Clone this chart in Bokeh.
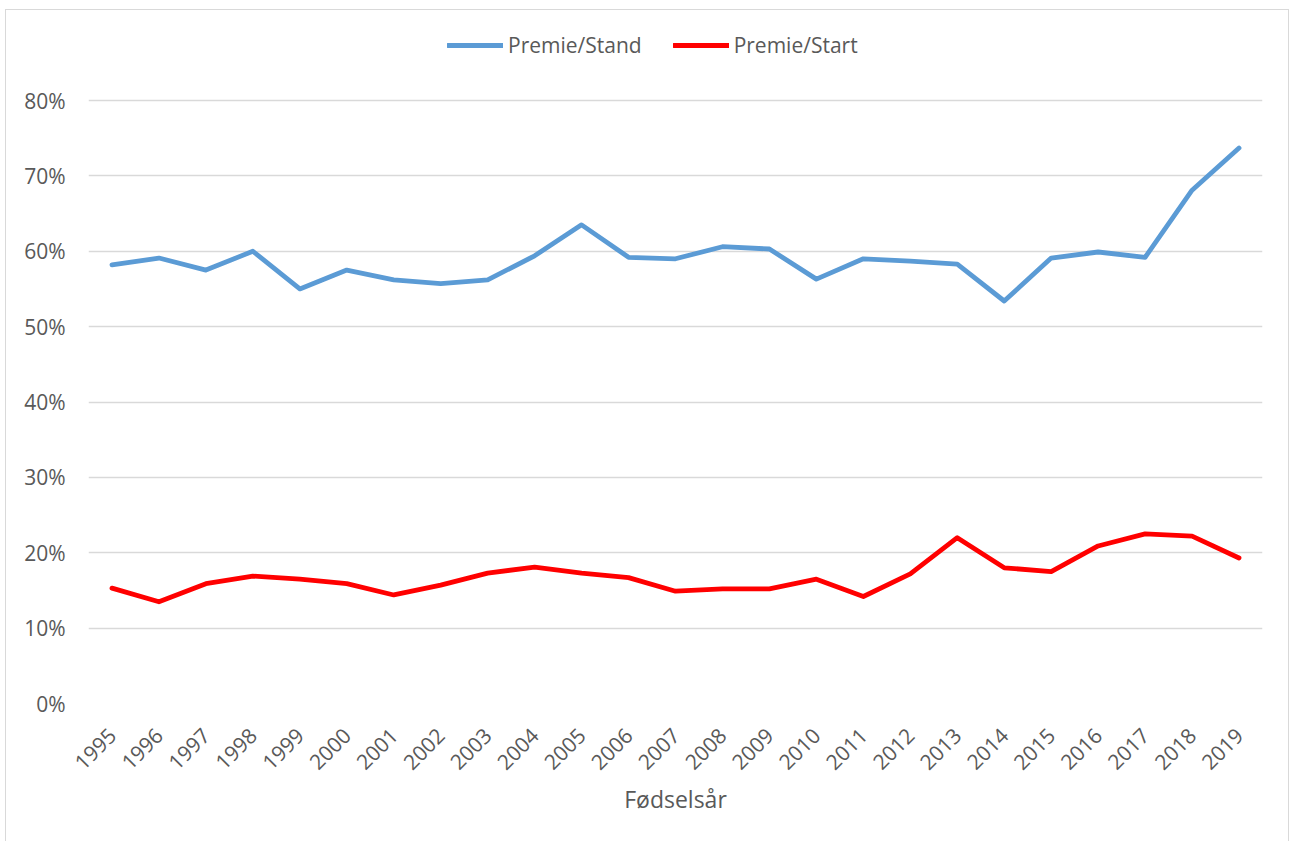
from bokeh.plotting import figure
from bokeh.models import (FactorRange, Range1d, NumeralTickFormatter, FixedTicker,
                          Legend, LegendItem)
from bokeh.embed import file_html
from bokeh.resources import INLINE
import math

years = [str(y) for y in range(1995, 2020)]
premie_stand = [58.2, 59.1, 57.5, 60.0, 55.0, 57.5, 56.2, 55.7, 56.2, 59.4, 63.5, 59.2, 59.0,
                60.6, 60.3, 56.3, 59.0, 58.7, 58.3, 53.4, 59.1, 59.9, 59.2, 68.1, 73.7]
premie_start = [15.3, 13.5, 15.9, 16.9, 16.5, 15.9, 14.4, 15.7, 17.3, 18.1, 17.3, 16.7, 14.9,
                15.2, 15.2, 16.5, 14.2, 17.2, 22.0, 18.0, 17.5, 20.9, 22.5, 22.2, 19.3]
y_ticks = [0, 0.1, 0.2, 0.3, 0.4, 0.5, 0.6, 0.7, 0.8]

stand_frac = [v / 100 for v in premie_stand]
start_frac = [v / 100 for v in premie_start]

TEXT = "#595959"
FONT = "Open Sans"

# frame: 0% .. 80% spans 603 px; frame extends above 80% to hold the legend
FRAME_TOP = 20
FRAME_BOTTOM = 693
y_end = 0.8 * (FRAME_BOTTOM - FRAME_TOP) / 603.0

W, H = 1284, 832
p = figure(width=W, height=H, x_range=FactorRange(factors=years),
           y_range=Range1d(0, y_end), output_backend="svg", toolbar_location=None,
           min_border_left=82, min_border_top=FRAME_TOP, min_border_right=28,
           min_border_bottom=H - FRAME_BOTTOM)
p.styles = {"border-left": "1px solid #d9d9d9", "border-top": "1px solid #d9d9d9",
            "border-right": "1px solid #d9d9d9", "margin-left": "5px", "margin-top": "9px"}
p.outline_line_color = None
p.background_fill_color = "white"
p.border_fill_color = "white"

r1 = p.line(years, stand_frac, line_color="#5B9BD5", line_width=4.8,
            line_join="round", line_cap="round")
r2 = p.line(years, start_frac, line_color="#FF0000", line_width=4.8,
            line_join="round", line_cap="round")

p.xgrid.grid_line_color = None
p.ygrid.grid_line_color = "#D9D9D9"
p.ygrid.grid_line_width = 1.3

p.yaxis.ticker = FixedTicker(ticks=y_ticks)
p.yaxis.formatter = NumeralTickFormatter(format="0%")
for ax in (p.xaxis[0], p.yaxis[0]):
    ax.axis_line_color = None
    ax.major_tick_line_color = None
    ax.minor_tick_line_color = None
    ax.major_tick_out = 0
    ax.major_tick_in = 0
    ax.major_label_text_font = FONT
    ax.major_label_text_font_size = "21px"
    ax.major_label_text_color = TEXT
p.yaxis.major_label_standoff = 23
p.xaxis.major_label_orientation = math.pi / 4
p.xaxis.major_label_standoff = 28
p.xaxis.axis_label = "Fødselsår"
p.xaxis.axis_label_text_font = FONT
p.xaxis.axis_label_text_font_size = "23px"
p.xaxis.axis_label_text_font_style = "normal"
p.xaxis.axis_label_text_color = TEXT
p.xaxis.axis_label_standoff = 3

legend = Legend(items=[LegendItem(label="Premie/Stand", renderers=[r1]),
                       LegendItem(label="Premie/Start", renderers=[r2])],
                orientation="horizontal", location=(359, 644))
legend.glyph_width = 56
legend.glyph_height = 24
legend.label_height = 24
legend.label_standoff = 5
legend.spacing = 31
legend.padding = 0
legend.margin = 0
legend.border_line_color = None
legend.background_fill_alpha = 0
legend.label_text_font = FONT
legend.label_text_font_size = "21px"
legend.label_text_color = TEXT
p.add_layout(legend, "center")

open("out.html", "w").write(file_html(p, INLINE))
